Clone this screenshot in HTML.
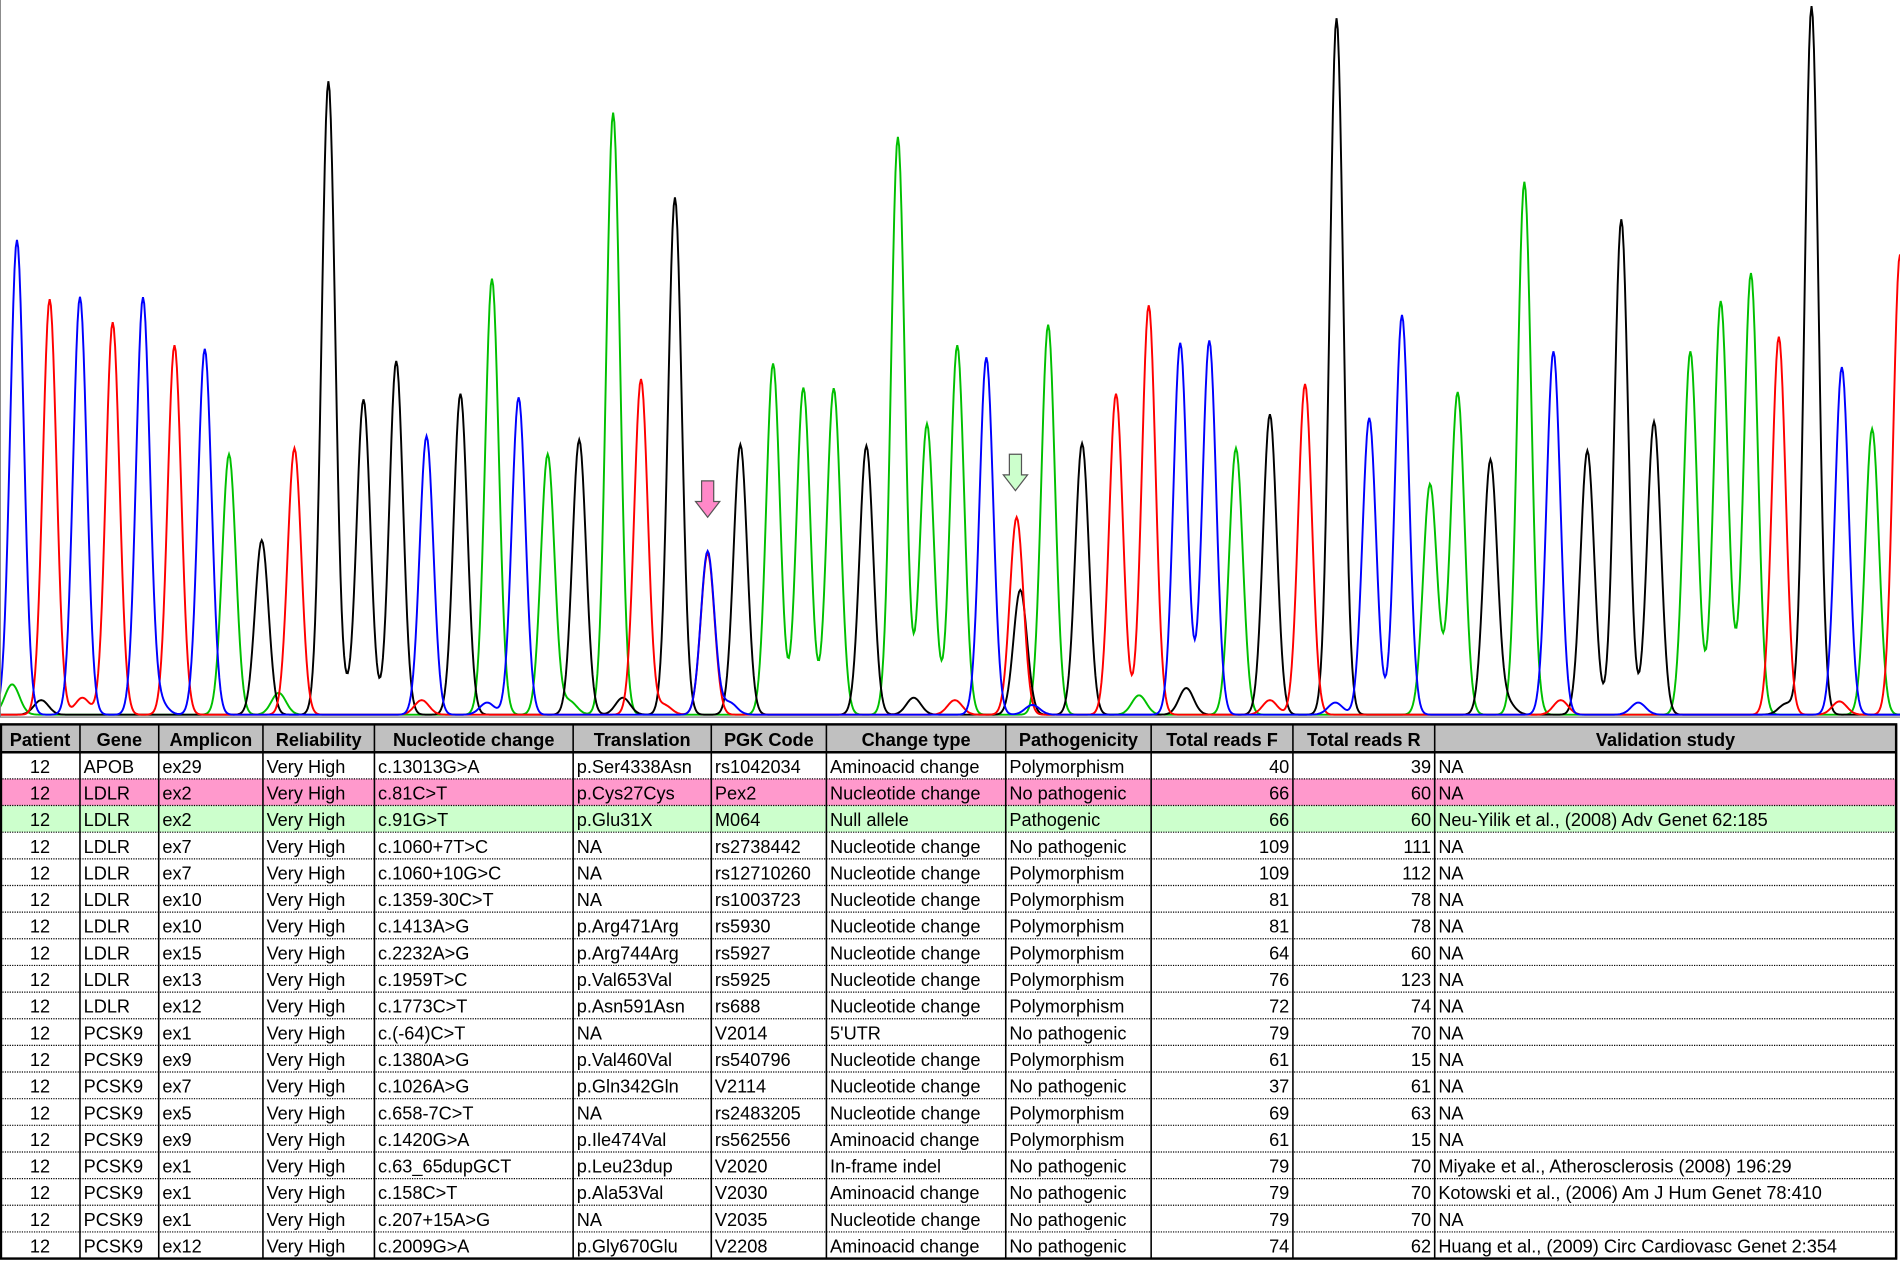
<!DOCTYPE html>
<html><head><meta charset="utf-8"><style>
html,body{margin:0;padding:0;background:#fff;width:1900px;height:1261px;overflow:hidden}
svg{display:block}
text{font-family:"Liberation Sans",Arial,sans-serif}
</style></head><body>
<svg id="root" width="1900" height="1261" viewBox="0 0 1568 1041" preserveAspectRatio="none" xmlns="http://www.w3.org/2000/svg">
<rect x="0" y="0" width="1568" height="1041" fill="#fff"/>
<g id="trace"></g>
<g id="tbl"></g>
</svg>
<script>
// Chromatogram data: scan position, signal amplitude, base channel
const peakPos = [14,41,66,93,118,144,169,189,216,243,271,300,327,352,380,406,428,452,478,506,529,557,584,584,611,638,663,688,715,741,765,790,814,839,842,865,893,921,948,974,998,1020,1048,1077,1103,1130,1157,1180,1203,1230,1258,1282,1310,1338,1365,1395,1420,1445,1468,1495,1520,1545,1568];
const peakAmp = [392,343,345,324,344,305,302,215,144,220,522,260,292,230,265,360,262,215,227,497,277,427,135,133,223,290,270,260,222,477,240,305,295,163,103,322,224,265,338,307,309,220,248,273,575,245,330,187,265,210,440,300,218,409,242,300,338,364,312,585,287,236,380];
const peakCh  = ['A','C','A','C','A','C','A','G','T','C','T','T','T','A','T','G','A','G','T','G','C','T','A','C','T','G','G','G','T','G','G','G','A','C','T','G','T','C','C','A','A','G','T','C','T','A','A','G','G','T','G','A','T','T','T','G','G','G','C','T','A','G','C'];
const noisePos = [10,40,80,150,230,290,360,420,470,520,560,620,690,760,800,870,940,985,1060,1120,1190,1250,1300,1370,1430,1480,1530];
const noiseAmp = [25,12,14,10,18,9,12,10,11,14,8,10,10,14,12,8,16,22,12,10,14,10,12,10,14,9,11];
const chColor = {A:'#0000ff',C:'#ff0000',G:'#00c000',T:'#000000'};
const BASE=590;
const tr=document.getElementById('trace');
const NS='http://www.w3.org/2000/svg';
['G','T','C','A'].forEach((ch,ci)=>{
  let pts=[];
  for(let x=0;x<=1568;x+=1){
    let v=0;
    peakPos.forEach((p,i)=>{ if(peakCh[i]===ch){const d=(x-p)/5.6; v+=peakAmp[i]*Math.exp(-d*d/2);} });
    noisePos.forEach((p,i)=>{ if(i%4===ci){const d=(x-p+ci*6)/6; v+=noiseAmp[i]*Math.exp(-d*d/2);} });
    pts.push(x+','+(BASE-v).toFixed(1));
  }
  const pl=document.createElementNS(NS,'polyline');
  pl.setAttribute('points',pts.join(' '));
  pl.setAttribute('fill','none');
  pl.setAttribute('stroke',chColor[ch]);
  pl.setAttribute('stroke-width','1.6');
  
  
  tr.appendChild(pl);
});
tr.insertAdjacentHTML('beforeend',
 '<line x1="0" y1="592" x2="1568" y2="592" stroke="#a0a0a0" stroke-width="1.5"/>'+
 '<line x1="0" y1="0" x2="0" y2="592" stroke="#808080" stroke-width="1.5"/>'+
 '<path d="M579,397 h10 v17 h5 l-10,13 l-10,-13 h5 z" fill="#ff88c8" stroke="#555" stroke-width="1"/>'+
 '<path d="M833,375 h10 v17 h5 l-10,13 l-10,-13 h5 z" fill="#ccffcc" stroke="#555" stroke-width="1"/>');

// Table
const cols=[0,66,131,217,309,473,587,682,830,950,1067,1184,1565];
const heads=['Patient','Gene','Amplicon','Reliability','Nucleotide change','Translation','PGK Code','Change type','Pathogenicity','Total reads F','Total reads R','Validation study'];
const rows=[
['12','APOB','ex29','Very High','c.13013G>A','p.Ser4338Asn','rs1042034','Aminoacid change','Polymorphism','40','39','NA'],
['12','LDLR','ex2','Very High','c.81C>T','p.Cys27Cys','Pex2','Nucleotide change','No pathogenic','66','60','NA'],
['12','LDLR','ex2','Very High','c.91G>T','p.Glu31X','M064','Null allele','Pathogenic','66','60','Neu-Yilik et al., (2008) Adv Genet 62:185'],
['12','LDLR','ex7','Very High','c.1060+7T>C','NA','rs2738442','Nucleotide change','No pathogenic','109','111','NA'],
['12','LDLR','ex7','Very High','c.1060+10G>C','NA','rs12710260','Nucleotide change','Polymorphism','109','112','NA'],
['12','LDLR','ex10','Very High','c.1359-30C>T','NA','rs1003723','Nucleotide change','Polymorphism','81','78','NA'],
['12','LDLR','ex10','Very High','c.1413A>G','p.Arg471Arg','rs5930','Nucleotide change','Polymorphism','81','78','NA'],
['12','LDLR','ex15','Very High','c.2232A>G','p.Arg744Arg','rs5927','Nucleotide change','Polymorphism','64','60','NA'],
['12','LDLR','ex13','Very High','c.1959T>C','p.Val653Val','rs5925','Nucleotide change','Polymorphism','76','123','NA'],
['12','LDLR','ex12','Very High','c.1773C>T','p.Asn591Asn','rs688','Nucleotide change','Polymorphism','72','74','NA'],
['12','PCSK9','ex1','Very High','c.(-64)C>T','NA','V2014','5\'UTR','No pathogenic','79','70','NA'],
['12','PCSK9','ex9','Very High','c.1380A>G','p.Val460Val','rs540796','Nucleotide change','Polymorphism','61','15','NA'],
['12','PCSK9','ex7','Very High','c.1026A>G','p.Gln342Gln','V2114','Nucleotide change','No pathogenic','37','61','NA'],
['12','PCSK9','ex5','Very High','c.658-7C>T','NA','rs2483205','Nucleotide change','Polymorphism','69','63','NA'],
['12','PCSK9','ex9','Very High','c.1420G>A','p.Ile474Val','rs562556','Aminoacid change','Polymorphism','61','15','NA'],
['12','PCSK9','ex1','Very High','c.63_65dupGCT','p.Leu23dup','V2020','In-frame indel','No pathogenic','79','70','Miyake et al., Atherosclerosis (2008) 196:29'],
['12','PCSK9','ex1','Very High','c.158C>T','p.Ala53Val','V2030','Aminoacid change','No pathogenic','79','70','Kotowski et al., (2006) Am J Hum Genet 78:410'],
['12','PCSK9','ex1','Very High','c.207+15A>G','NA','V2035','Nucleotide change','No pathogenic','79','70','NA'],
['12','PCSK9','ex12','Very High','c.2009G>A','p.Gly670Glu','V2208','Aminoacid change','No pathogenic','74','62','Huang et al., (2009) Circ Cardiovasc Genet 2:354']];
const esc=s=>s.replace(/&/g,'&amp;').replace(/</g,'&lt;').replace(/>/g,'&gt;');
let h='';
const HT=598,HB=621,RH=22;
h+='<rect x="0" y="'+HT+'" width="1565" height="'+(HB-HT)+'" fill="#c0c0c0"/>';
rows.forEach((r,i)=>{
  const y=HB+i*RH;
  const fill=i===1?'#ff99cc':(i===2?'#ccffcc':'#fff');
  h+='<rect x="0" y="'+y+'" width="1565" height="'+RH+'" fill="'+fill+'"/>';
  if(i>0) h+='<line x1="0" y1="'+y+'" x2="1565" y2="'+y+'" stroke="#000" stroke-width="1" stroke-dasharray="1,1"/>';
});
heads.forEach((t,c)=>{
  const cx=(cols[c]+cols[c+1])/2;
  h+='<text x="'+cx+'" y="'+(HB-5)+'" text-anchor="middle" font-size="15" font-weight="bold">'+esc(t)+'</text>';
});
rows.forEach((r,i)=>{
  const y=HB+i*RH+17;
  r.forEach((t,c)=>{
    let x,a;
    if(c===0){x=(cols[0]+cols[1])/2;a='middle';}
    else if(c===9||c===10){x=cols[c+1]-3;a='end';}
    else{x=cols[c]+3;a='start';}
    h+='<text x="'+x+'" y="'+y+'" text-anchor="'+a+'" font-size="15">'+esc(t)+'</text>';
  });
});
cols.forEach(x=>{ h+='<line x1="'+x+'" y1="'+HT+'" x2="'+x+'" y2="'+(HB+rows.length*RH)+'" stroke="#000" stroke-width="1.3"/>'; });
h+='<rect x="0.8" y="'+HT+'" width="1564" height="'+(HB+rows.length*RH-HT)+'" fill="none" stroke="#000" stroke-width="2"/>';
h+='<line x1="0" y1="'+HB+'" x2="1565" y2="'+HB+'" stroke="#000" stroke-width="2"/>';
document.getElementById('tbl').innerHTML=h;
</script>
</body></html>
